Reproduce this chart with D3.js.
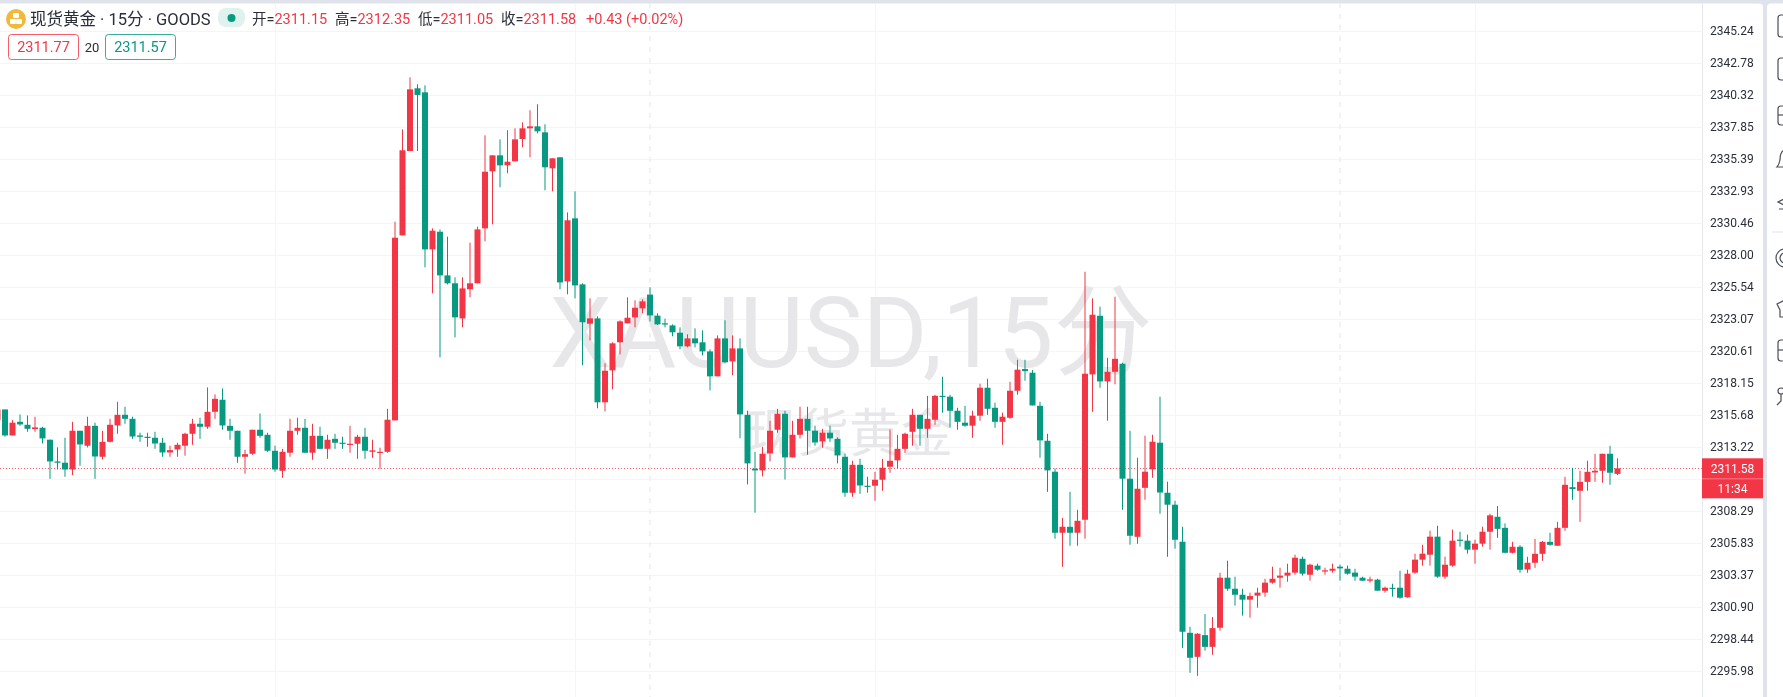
<!DOCTYPE html>
<html><head><meta charset="utf-8">
<script src="https://d3js.org/d3.v7.min.js"></script>
<style>html,body{margin:0;padding:0;background:#fff;overflow:hidden}svg{display:block;filter:blur(0.45px)}text{font-family:Roboto,"Noto Sans CJK SC",sans-serif}</style>
</head><body><svg id="c" width="1783" height="697"></svg>
<script>
const tickLabels=["2345.24","2342.78","2340.32","2337.85","2335.39","2332.93","2330.46","2328.00","2325.54","2323.07","2320.61","2318.15","2315.68","2313.22","2310.76","2308.29","2305.83","2303.37","2300.90","2298.44","2295.98"];
const hiddenTick="2310.76";
const opens=[2315.29,2316.11,2314.11,2315.16,2314.93,2314.60,2314.70,2313.78,2312.11,2312.01,
2311.49,2314.47,2313.32,2314.85,2312.47,2313.62,2314.88,2315.70,2315.39,2314.11,
2314.01,2313.93,2313.55,2312.80,2313.03,2313.32,2314.24,2315.01,2314.78,2315.93,
2316.86,2314.85,2314.47,2312.47,2312.70,2314.55,2314.16,2312.93,2311.39,2312.78,
2314.47,2314.70,2312.78,2314.08,2313.08,2313.85,2313.55,2313.39,2313.47,2314.01,
2312.85,2312.80,2312.85,2315.27,2329.51,2336.00,2340.83,2340.52,2328.43,2329.79,
2326.43,2325.82,2323.12,2325.36,2325.82,2330.05,2334.44,2335.67,2334.90,2335.21,
2336.93,2337.75,2337.90,2337.44,2334.67,2335.52,2325.97,2330.82,2325.74,2322.71,
2323.12,2316.66,2319.12,2321.28,2322.74,2323.20,2323.89,2324.95,2323.33,2322.74,
2322.58,2322.02,2320.97,2321.58,2321.28,2320.58,2318.66,2321.58,2319.81,2320.81,
2315.70,2311.55,2311.42,2312.73,2314.55,2315.78,2312.42,2314.16,2315.39,2314.47,
2313.65,2314.32,2313.85,2312.47,2309.70,2311.85,2310.24,2310.24,2310.70,2311.70,
2312.19,2313.08,2314.39,2315.70,2314.62,2315.32,2317.16,2317.09,2316.01,2315.09,
2314.86,2315.63,2317.78,2316.24,2315.16,2315.47,2317.55,2319.22,2318.94,2316.39,
2313.70,2311.32,2306.62,2307.08,2306.62,2307.62,2318.81,2323.32,2318.27,2319.01,
2319.63,2310.78,2306.31,2310.08,2311.50,2313.55,2309.70,2308.78,2305.93,2298.92,
2297.07,2298.74,2297.84,2299.31,2303.16,2302.31,2301.85,2301.47,2301.78,2302.01,
2302.78,2303.16,2303.32,2303.55,2304.62,2303.39,2304.09,2303.65,2303.70,2304.01,
2303.85,2303.55,2303.16,2302.93,2303.01,2302.16,2302.39,2302.39,2301.65,2303.55,
2304.55,2304.93,2306.32,2303.24,2304.09,2306.09,2306.01,2305.32,2305.78,2306.70,
2307.85,2307.00,2305.08,2305.54,2303.79,2304.31,2305.00,2305.92,2305.62,2307.00,
2310.13,2309.85,2310.54,2311.26,2311.39,2312.70,2311.15];
const highs=[2316.11,2316.11,2315.29,2315.73,2315.65,2315.55,2314.78,2313.80,2313.19,2313.93,
2315.16,2314.47,2315.55,2315.09,2314.47,2315.39,2316.70,2316.32,2315.55,2314.32,
2314.32,2314.39,2313.93,2313.32,2313.55,2314.32,2315.39,2315.47,2317.81,2317.27,
2317.73,2315.39,2314.47,2313.01,2314.55,2315.80,2314.32,2313.32,2313.08,2315.39,
2315.47,2315.39,2315.01,2314.78,2314.16,2314.24,2314.01,2314.85,2314.16,2314.70,
2313.78,2313.16,2316.16,2330.56,2337.67,2341.68,2341.14,2341.06,2330.05,2329.97,
2329.41,2326.28,2326.28,2328.95,2330.18,2337.21,2335.67,2336.90,2337.60,2337.75,
2338.21,2339.14,2339.60,2338.06,2335.44,2335.52,2331.28,2332.90,2325.82,2324.66,
2323.28,2319.66,2321.28,2322.97,2324.74,2324.51,2324.59,2325.51,2323.51,2323.10,
2322.66,2322.43,2321.89,2322.35,2322.20,2320.74,2321.81,2322.97,2321.81,2321.58,
2316.01,2312.85,2313.24,2315.24,2316.16,2316.01,2315.24,2316.32,2316.32,2314.86,
2314.62,2314.86,2313.96,2312.70,2312.16,2312.31,2310.93,2311.31,2312.31,2314.57,
2314.16,2314.32,2316.16,2315.70,2317.16,2317.24,2318.63,2317.24,2316.24,2316.39,
2316.01,2318.09,2318.47,2316.63,2315.86,2318.24,2319.94,2319.94,2319.14,2316.70,
2314.24,2311.57,2307.77,2309.78,2308.39,2326.71,2324.66,2324.02,2320.09,2324.79,
2319.71,2314.47,2312.39,2314.09,2314.16,2317.09,2310.55,2309.08,2307.08,2299.38,
2298.90,2300.36,2300.13,2303.54,2304.47,2303.24,2302.31,2302.01,2302.39,2303.08,
2304.01,2303.93,2304.24,2304.93,2304.78,2304.24,2304.24,2303.93,2304.24,2304.16,
2304.09,2303.85,2303.24,2303.24,2303.08,2302.47,2302.70,2303.70,2303.78,2305.01,
2305.70,2306.78,2307.16,2304.78,2306.86,2306.70,2306.47,2306.09,2307.09,2308.09,
2308.67,2307.34,2305.92,2305.67,2304.77,2306.15,2306.00,2306.62,2307.46,2310.93,
2311.62,2311.39,2312.16,2312.70,2312.70,2313.31,2312.35];
const lows=[2315.16,2314.01,2314.11,2314.85,2314.39,2314.39,2313.49,2310.77,2311.49,2310.93,
2311.06,2311.78,2313.19,2310.77,2312.26,2313.57,2314.24,2315.01,2313.85,2313.62,
2313.24,2313.08,2312.47,2312.47,2312.47,2312.55,2313.39,2313.85,2314.62,2315.39,
2314.55,2313.78,2312.01,2311.16,2312.62,2313.93,2312.85,2311.31,2310.85,2312.47,
2314.16,2312.78,2312.24,2313.08,2312.31,2313.08,2313.08,2312.78,2312.31,2312.31,
2312.39,2311.54,2312.78,2315.27,2329.51,2336.00,2336.00,2327.05,2325.05,2320.12,
2325.74,2321.66,2322.43,2324.74,2325.82,2329.05,2330.36,2333.21,2334.29,2335.21,
2336.29,2335.52,2337.36,2332.98,2332.90,2325.36,2324.97,2324.66,2319.51,2321.43,
2316.20,2315.96,2317.66,2320.35,2322.74,2322.43,2323.51,2322.89,2322.61,2322.43,
2321.74,2320.74,2320.89,2320.89,2320.27,2317.58,2318.66,2319.66,2318.74,2313.89,
2310.34,2308.16,2310.96,2312.11,2314.32,2310.72,2312.42,2313.88,2312.62,2313.32,
2313.16,2313.62,2311.96,2309.39,2309.39,2309.62,2309.70,2309.08,2309.85,2311.24,
2311.55,2312.78,2313.32,2313.32,2313.93,2314.93,2315.86,2314.70,2314.55,2314.78,
2313.93,2315.24,2315.70,2314.70,2313.39,2315.39,2317.24,2318.32,2316.42,2312.39,
2309.77,2306.16,2304.00,2305.62,2305.62,2306.16,2315.93,2317.78,2315.24,2318.04,
2308.39,2305.70,2305.77,2309.16,2310.85,2308.08,2304.77,2305.39,2297.74,2295.84,
2295.61,2297.54,2297.23,2299.08,2302.16,2301.01,2300.24,2300.08,2300.85,2301.70,
2302.70,2302.39,2302.85,2303.39,2303.32,2302.93,2303.70,2303.39,2303.55,2302.93,
2303.39,2302.93,2302.93,2302.78,2302.16,2302.01,2301.70,2301.55,2301.62,2303.47,
2304.09,2304.09,2303.16,2303.08,2304.01,2305.55,2305.01,2304.24,2305.55,2305.32,
2306.23,2305.03,2305.03,2303.54,2303.54,2303.92,2304.46,2305.62,2305.62,2306.77,
2309.16,2307.46,2309.85,2310.54,2310.47,2310.31,2311.05];
const closes=[2316.11,2314.11,2315.09,2314.96,2314.62,2314.73,2313.88,2312.11,2312.01,2311.49,
2314.47,2313.42,2314.85,2312.49,2313.62,2314.93,2315.70,2315.39,2314.03,2314.01,
2313.93,2313.49,2312.80,2312.98,2313.39,2314.24,2315.01,2314.78,2315.93,2316.93,
2314.88,2314.47,2312.47,2312.67,2314.55,2314.08,2312.93,2311.49,2312.85,2314.47,
2314.70,2312.78,2314.08,2313.08,2313.78,2313.55,2313.47,2313.47,2314.01,2312.93,
2312.96,2312.85,2315.32,2329.33,2336.06,2340.75,2340.32,2328.43,2329.87,2326.43,
2325.82,2323.20,2325.43,2325.82,2329.97,2334.41,2335.67,2334.90,2335.18,2336.90,
2337.75,2337.90,2337.52,2334.75,2335.44,2325.89,2330.67,2325.66,2322.82,2323.12,
2316.66,2319.09,2321.20,2322.89,2323.17,2323.94,2324.43,2323.35,2322.66,2322.66,
2322.05,2320.97,2321.58,2321.20,2320.58,2318.66,2321.58,2319.74,2320.81,2315.73,
2311.96,2311.42,2312.70,2314.47,2315.78,2312.42,2314.16,2315.39,2314.47,2313.57,
2314.32,2313.88,2312.57,2309.70,2311.85,2310.26,2310.16,2310.70,2311.62,2312.16,
2313.08,2314.24,2315.70,2314.62,2315.39,2317.16,2317.09,2316.01,2315.16,2314.86,
2315.63,2317.78,2316.16,2315.16,2315.55,2317.55,2319.17,2319.06,2316.42,2313.73,
2311.42,2306.62,2307.08,2306.62,2307.54,2318.86,2323.40,2318.27,2319.01,2320.01,
2310.78,2306.39,2310.01,2311.32,2313.63,2309.72,2308.78,2306.08,2299.00,2297.00,
2298.85,2297.84,2299.28,2303.16,2302.31,2301.85,2301.47,2301.75,2302.01,2302.78,
2303.08,2303.32,2303.55,2304.70,2303.47,2304.16,2303.78,2303.73,2303.85,2303.88,
2303.47,2303.24,2302.93,2303.03,2302.16,2302.39,2302.31,2301.62,2303.47,2304.55,
2305.01,2306.32,2303.24,2304.16,2306.01,2306.01,2305.32,2305.78,2306.70,2307.96,
2306.92,2305.08,2305.54,2303.77,2304.31,2305.00,2305.92,2305.69,2307.00,2310.31,
2309.98,2310.54,2311.31,2311.39,2312.70,2311.24,2311.58];
const verticalGridIndex=[37,77,117,157,197];
const sessionIndex=[87,179];
const legendOhlc=[["开=","2311.15"],["高=","2312.35"],["低=","2311.05"],["收=","2311.58"]];
const upColor="#f23645",downColor="#089981",textColor="#2a2e39";
const paneRight=1702, axisRight=1763, toolLeft=1767;

const svg=d3.select("#c");
const y=d3.scaleLinear().domain([2345.24,2295.98]).range([31,671]);
const x=d3.scaleLinear().domain([1,216]).range([5,1617.5]);
const H=697;

svg.append("rect").attr("width",1783).attr("height",H).attr("fill","#e0e3eb");
svg.append("path").attr("fill","#fff").attr("d",`M0 3.5H${axisRight-4}Q${axisRight} 3.5 ${axisRight} 7.5V${H}H0Z`);
svg.append("path").attr("fill","#fff").attr("d",`M${toolLeft+4} 3.5H1783V${H}H${toolLeft}V7.5Q${toolLeft} 3.5 ${toolLeft+4} 3.5Z`);
svg.append("line").attr("x1",paneRight+.5).attr("x2",paneRight+.5).attr("y1",3).attr("y2",H).attr("stroke","#e6e8ef");

const defs=svg.append("defs");
defs.append("clipPath").attr("id","pane").append("rect").attr("width",paneRight).attr("height",H);
const pane=svg.append("g").attr("clip-path","url(#pane)");

// grid
pane.append("g").selectAll("line").data(tickLabels).join("line")
 .attr("x1",0).attr("x2",paneRight).attr("y1",d=>Math.round(y(+d))+.5).attr("y2",d=>Math.round(y(+d))+.5)
 .attr("stroke","#f4f5f8");
pane.append("g").selectAll("line").data(verticalGridIndex).join("line")
 .attr("x1",d=>Math.round(x(d))+.5).attr("x2",d=>Math.round(x(d))+.5).attr("y1",3).attr("y2",H)
 .attr("stroke","#f4f5f8");
pane.append("g").selectAll("line").data(sessionIndex).join("line")
 .attr("x1",d=>x(d)).attr("x2",d=>x(d)).attr("y1",3).attr("y2",H)
 .attr("stroke","#eceef4").attr("stroke-width",1.5).attr("stroke-dasharray","5 6");

// watermark
pane.append("text").attr("x",851).attr("y",367).attr("text-anchor","middle")
 .attr("font-size",99).attr("fill","#e7e7ea").text("XAUUSD,15分");
pane.append("text").attr("x",849).attr("y",452).attr("text-anchor","middle")
 .attr("font-size",52).attr("fill","#e7e7ea").text("现货黄金");

// price line
const last=closes[closes.length-1];
pane.append("line").attr("x1",0).attr("x2",paneRight).attr("y1",Math.round(y(last))+.5).attr("y2",Math.round(y(last))+.5)
 .attr("stroke",upColor).attr("stroke-opacity",.8).attr("stroke-dasharray","1 2");

// candles
const idx=d3.range(opens.length);
const col=i=>closes[i]>=opens[i]?upColor:downColor;
pane.append("g").selectAll("line").data(idx).join("line")
 .attr("x1",i=>x(i)).attr("x2",i=>x(i)).attr("y1",i=>y(highs[i])).attr("y2",i=>y(lows[i]))
 .attr("stroke",col).attr("stroke-width",1);
pane.append("g").selectAll("rect").data(idx).join("rect")
 .attr("x",i=>x(i)-3).attr("width",6)
 .attr("y",i=>y(Math.max(opens[i],closes[i])))
 .attr("height",i=>Math.max(1.2,Math.abs(y(opens[i])-y(closes[i]))))
 .attr("fill",col);

// price axis
const axis=d3.axisRight(y).tickValues(tickLabels.filter(t=>t!==hiddenTick).map(Number)).tickFormat(d3.format(".2f")).tickSize(0).tickPadding(0);
const ax=svg.append("g").attr("transform",`translate(${paneRight+8},0)`).call(axis);
ax.select(".domain").remove();
ax.selectAll("text").attr("font-size",12).attr("fill","#2a2e39").style("font-family","Roboto");

// price tag
svg.append("rect").attr("x",paneRight).attr("y",y(last)-10).attr("width",axisRight-paneRight).attr("height",40).attr("fill",upColor);
svg.append("line").attr("x1",paneRight).attr("x2",axisRight).attr("y1",y(last)+10.5).attr("y2",y(last)+10.5).attr("stroke","#ffffff").attr("stroke-opacity",.35);
svg.append("text").attr("x",paneRight+30.5).attr("y",y(last)+4.5).attr("text-anchor","middle").attr("font-size",12).attr("fill","#fff").text(last.toFixed(2));
svg.append("text").attr("x",paneRight+30.5).attr("y",y(last)+24.5).attr("text-anchor","middle").attr("font-size",12).attr("fill","#fff").text("11:34");

// legend
svg.append("circle").attr("cx",16).attr("cy",19).attr("r",10).attr("fill","#f0b93b");
svg.append("g").attr("fill","#fff").selectAll("rect").data([[13,13],[10,19],[16,19]]).join("rect")
 .attr("x",d=>d[0]).attr("y",d=>d[1]).attr("width",6).attr("height",5).attr("rx",1);
svg.append("text").attr("x",30).attr("y",24.5).attr("font-size",16.5).attr("fill",textColor).text("现货黄金 · 15分 · GOODS");
svg.append("rect").attr("x",218).attr("y",8).attr("width",27).attr("height",19).attr("rx",8).attr("fill","#dff2ee");
svg.append("circle").attr("cx",231.5).attr("cy",18).attr("r",4).attr("fill",downColor);
const lx=[252,335,418,501];
legendOhlc.forEach((d,i)=>{
 const t=svg.append("text").attr("x",lx[i]).attr("y",24).attr("font-size",14.5).attr("fill",textColor);
 t.append("tspan").text(d[0]);
 t.append("tspan").attr("fill",upColor).text(d[1]);
});
svg.append("text").attr("x",586).attr("y",24).attr("font-size",14.5).attr("fill",upColor).text("+0.43 (+0.02%)");

const boxes=[[8.5,70,"2311.77",upColor],[105.5,70,"2311.57",downColor]];
boxes.forEach(b=>{
 svg.append("rect").attr("x",b[0]).attr("y",34.5).attr("width",b[1]).attr("height",25).attr("rx",3).attr("fill","#fff").attr("stroke",b[3]).attr("stroke-opacity",.8);
 svg.append("text").attr("x",b[0]+b[1]/2).attr("y",52).attr("text-anchor","middle").attr("font-size",14.5).attr("fill",b[3]).text(b[2]);
});
svg.append("text").attr("x",92).attr("y",52).attr("text-anchor","middle").attr("font-size",13).attr("fill",textColor).text("20");

// toolbar icons (clipped by window edge)
const ic=svg.append("g").attr("fill","none").attr("stroke","#4a4e59").attr("stroke-width",1.2);
[[15,22],[58,22],[106,19],[340,21]].forEach(a=>ic.append("rect").attr("x",1778).attr("y",a[0]).attr("width",14).attr("height",a[1]).attr("rx",3));
ic.append("line").attr("x1",1778).attr("x2",1790).attr("y1",115).attr("y2",115);
ic.append("line").attr("x1",1778).attr("x2",1790).attr("y1",350).attr("y2",350);
ic.append("path").attr("d","M1784 150Q1780 152 1780 160Q1779 165 1777 167H1790");
ic.append("path").attr("d","M1790 196L1778 202L1790 208M1779 209H1790");
ic.append("circle").attr("cx",1785).attr("cy",258).attr("r",9);
ic.append("circle").attr("cx",1785).attr("cy",258).attr("r",5);
ic.append("path").attr("d","M1785 300L1777 304L1780 310V317H1790");
ic.append("circle").attr("cx",1781).attr("cy",391).attr("r",3);
ic.append("path").attr("d","M1781 394V401L1777 405");
svg.append("line").attr("x1",1772).attr("x2",1783).attr("y1",232).attr("y2",232).attr("stroke","#e0e3eb");
</script></body></html>
